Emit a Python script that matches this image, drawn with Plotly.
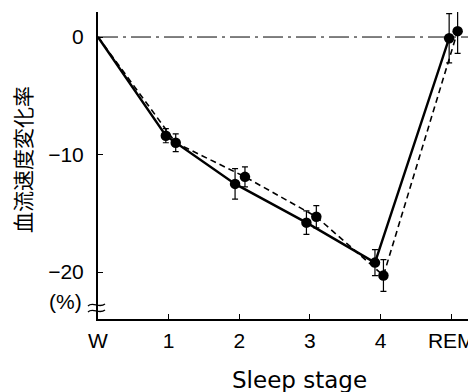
import plotly.graph_objects as go

# ---- data ----
tick_vals = [0, 1, 2, 3, 4, 5]
tick_text = ["W", "1", "2", "3", "4", "REM"]

solid_x = [0, 0.96, 1.94, 2.95, 3.92, 4.97]
solid_y = [0, -8.4, -12.5, -15.8, -19.2, -0.1]
solid_err = [0, 0.6, 1.3, 1.0, 1.1, 2.1]

dashed_x = [0, 1.10, 2.08, 3.09, 4.04, 5.09]
dashed_y = [0, -9.0, -11.9, -15.3, -20.3, 0.5]
dashed_err = [0, 0.75, 0.85, 0.95, 1.35, 1.9]

y_ticks = [0, -10, -20]
baseline_x = [0, 5.35]
baseline_y = [0, 0]

TICKFONT = dict(family="Liberation Sans Narrow, Arial Narrow, Liberation Sans, Arial", size=21, color="black")

# the page body adds an 8px margin, so the figure is drawn 8px smaller
PAGE_OFF = 8

fig = go.Figure()

# zero reference (dash-dot)
fig.add_trace(go.Scatter(x=baseline_x, y=baseline_y, mode="lines",
                         line=dict(color="black", width=1, dash="20px,5px,3px,5px"),
                         hoverinfo="skip", showlegend=False))

# dashed series
fig.add_trace(go.Scatter(x=dashed_x, y=dashed_y, mode="lines",
                         line=dict(color="black", width=1.6, dash="6px,4px"),
                         showlegend=False))
fig.add_trace(go.Scatter(x=dashed_x[1:], y=dashed_y[1:], mode="markers",
                         marker=dict(color="black", size=10.5),
                         error_y=dict(type="data", array=dashed_err[1:], color="black",
                                      thickness=1.2, width=3),
                         showlegend=False))

# solid series
fig.add_trace(go.Scatter(x=solid_x, y=solid_y, mode="lines",
                         line=dict(color="black", width=2.4),
                         showlegend=False))
fig.add_trace(go.Scatter(x=solid_x[1:], y=solid_y[1:], mode="markers",
                         marker=dict(color="black", size=10.5),
                         error_y=dict(type="data", array=solid_err[1:], color="black",
                                      thickness=1.2, width=3),
                         showlegend=False))

# axis break mark on the y axis (decoration, paper-referenced so it is not clipped)
for dy in (3, -3):
    fig.add_shape(type="path", xref="paper", yref="paper", xsizemode="pixel", ysizemode="pixel",
                  xanchor=0, yanchor=0.036,
                  path=f"M-10,{dy-1} C-5,{dy+4} 1,{dy-4} 7,{dy+1}",
                  line=dict(color="black", width=1.3))

fig.update_layout(
    width=476 - PAGE_OFF, height=392 - PAGE_OFF,
    margin=dict(l=98 - PAGE_OFF, r=0, t=12 - PAGE_OFF, b=73),
    paper_bgcolor="white", plot_bgcolor="white",
    font=TICKFONT,
    xaxis=dict(range=[0, 5.35], tickvals=tick_vals, ticktext=tick_text,
               showgrid=False, zeroline=False, showline=True, linecolor="black", linewidth=1.5,
               ticks="inside", ticklen=5, tickwidth=1, tickcolor="black",
               tickfont=TICKFONT, ticklabelstandoff=2, automargin=False),
    yaxis=dict(range=[-24.0, 2.13], tickvals=y_ticks,
               showgrid=False, zeroline=False, showline=True, linecolor="black", linewidth=2,
               ticks="inside", ticklen=5, tickwidth=1, tickcolor="black",
               tickfont=TICKFONT, ticklabelstandoff=8, automargin=False),
    annotations=[
        dict(text="血流速度変化率", xref="paper", yref="paper", x=-0.201, y=0.518,
             showarrow=False, textangle=-90, xanchor="center", yanchor="middle",
             font=dict(family="Noto Sans CJK JP", size=21, color="black")),
        dict(text="(%)", xref="paper", yref="paper", x=-0.0873, y=0.0554,
             showarrow=False, xanchor="center", yanchor="middle", font=TICKFONT),
        dict(text="Sleep stage", xref="paper", yref="paper", x=0.534, y=-0.199,
             showarrow=False, xanchor="center", yanchor="middle",
             font=dict(family="DejaVu Sans", size=23, color="black")),
    ],
)

fig.write_html("out.html")
